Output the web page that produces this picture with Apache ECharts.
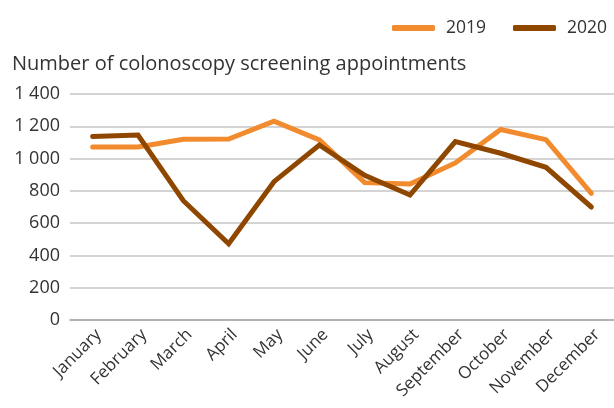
<!DOCTYPE html>
<html>
<head>
<meta charset="utf-8">
<script src="https://cdn.jsdelivr.net/npm/echarts@6/dist/echarts.min.js"></script>
<style>
  html, body { margin: 0; padding: 0; background: #fff; }
  #chart { width: 614px; height: 408px; }
</style>
</head>
<body>
<div id="chart"></div>
<script>
// Colonoscopy screening appointments per month, 2019 vs 2020
const months = ['January', 'February', 'March', 'April', 'May', 'June',
  'July', 'August', 'September', 'October', 'November', 'December'];
const y2019 = [1072, 1072, 1120, 1121, 1232, 1115, 851, 843, 973, 1180, 1117, 785];
const y2020 = [1136, 1146, 739, 472, 857, 1084, 896, 774, 1105, 1033, 946, 700];
const yTicks = { min: 0, max: 1400, interval: 200 };

const ORANGE = '#f28a2e';
const BROWN = '#8f4700';
const FONT = '"Open Sans", "Noto Sans", sans-serif';

// "1 400" style thousands separator
const spaced = (v) => String(v).replace(/\B(?=(\d{3})+(?!\d))/g, ' ');

const chart = echarts.init(document.getElementById('chart'));
chart.setOption({
  animation: false,
  textStyle: { fontFamily: FONT },
  title: {
    text: 'Number of colonoscopy screening appointments',
    left: 7, top: 49,
    textStyle: { fontFamily: FONT, fontSize: 20, fontWeight: 'normal', color: '#333' },
  },
  legend: {
    right: 2, top: 14,
    icon: 'roundRect',
    itemWidth: 43, itemHeight: 6, itemGap: 27,
    textStyle: { fontFamily: FONT, fontSize: 17.5, color: '#333', padding: [0, 0, 0, 6] },
    data: ['2019', '2020'],
  },
  grid: { left: 70, right: -2, top: 94, bottom: 88, containLabel: false },
  xAxis: {
    type: 'category',
    data: months,
    boundaryGap: true,
    axisLine: { lineStyle: { color: '#a6a6a6', width: 1.5 } },
    axisTick: { show: false },
    axisLabel: {
      rotate: 45, fontSize: 17, color: '#333', margin: 6, interval: 0,
      verticalAlign: 'top', fontFamily: FONT,
    },
  },
  yAxis: {
    type: 'value',
    min: yTicks.min, max: yTicks.max, interval: yTicks.interval,
    axisLine: { show: false },
    axisTick: { show: false },
    splitLine: { lineStyle: { color: '#c6c6c6', width: 1.5 } },
    axisLabel: { fontSize: 18, color: '#333', margin: 10, formatter: spaced, fontFamily: FONT },
  },
  series: [
    {
      name: '2019', type: 'line', data: y2019,
      symbol: 'none', color: ORANGE,
      lineStyle: { color: ORANGE, width: 5, cap: 'round', join: 'miter' },
    },
    {
      name: '2020', type: 'line', data: y2020,
      symbol: 'none', color: BROWN,
      lineStyle: { color: BROWN, width: 5, cap: 'round', join: 'miter' },
    },
  ],
});
</script>
</body>
</html>
